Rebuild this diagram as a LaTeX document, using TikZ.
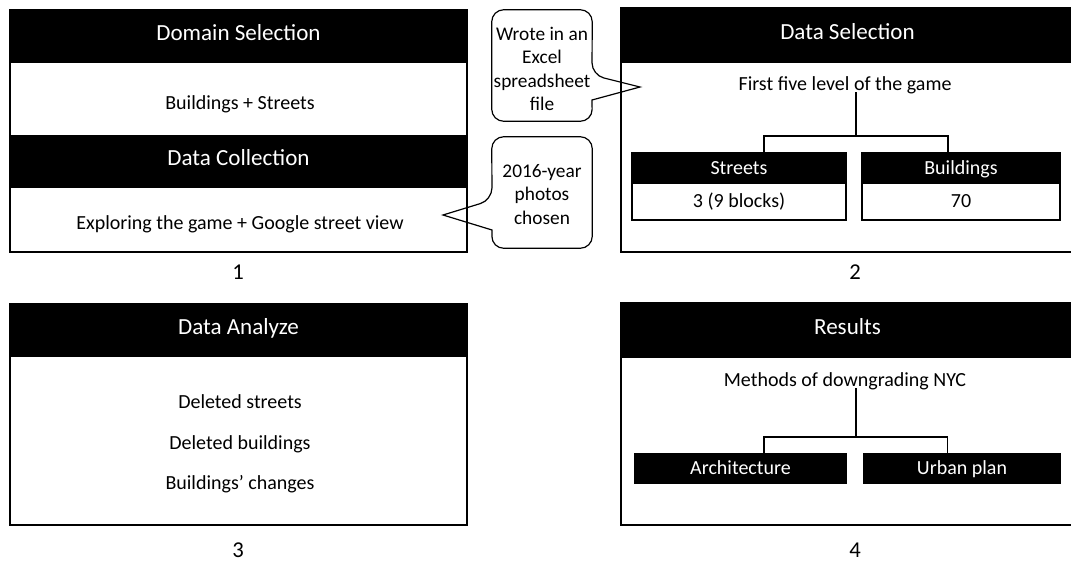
\documentclass[tikz,border=0pt]{standalone}
\usepackage{fontspec}
\setmainfont{Carlito}
\usepackage{tikz}
\usetikzlibrary{positioning,calc,fit}
\tikzset{
  frame/.style={draw=black,line width=.9pt,inner sep=0pt},
  band/.style={fill=black,inner sep=0pt},
  head/.style={text=white,inner sep=1pt,text height=11pt,text depth=0pt,font=\fontsize{17.3}{20}\selectfont},
  subhead/.style={text=white,inner sep=1pt,text height=9.6pt,text depth=0pt,font=\fontsize{15}{17}\selectfont},
  subval/.style={draw=black,line width=.9pt,inner sep=0pt},
  txt/.style={font=\fontsize{15}{17}\selectfont,inner sep=1pt,text height=9.6pt,text depth=0pt},
  num/.style={font=\fontsize{17}{20}\selectfont,inner sep=1pt},
  bubble/.style={inner sep=0pt,align=center,font=\fontsize{14.5}{17.5}\selectfont},
  outline/.style={line width=.9pt,rounded corners=9pt},
  tree/.style={line width=.9pt,black}
}

\begin{document}
\begin{tikzpicture}[x=0.75pt,y=-0.75pt]
  \useasboundingbox (0,0) rectangle (1071,561);

  % panel 1
  \node[frame,fit={(10,10) (467,252)}] (panelA) {};
  \node[band,fit={(10,10) (467,63)}] (domainbar) {};
  \node[head] (domain) at ([yshift=2.5]domainbar.center) {Domain Selection};
  \node[txt] (scope) at (240,103) {Buildings + Streets};
  \node[band,fit={(10,135) (467,188)}] (collectbar) {};
  \node[head] (collect) at ([yshift=2.5]collectbar.center) {Data Collection};
  \node[txt] (explore) at (240,223) {Exploring the game + Google street view};
  \node[num] (numA) at (238,272) {1};

  % notes
  \node[fit={(492,10) (592,121)},inner sep=0pt] (noteA) {};
  \node[bubble] (noteAtxt) at ([yshift=-2.5]noteA.center) {Wrote in an\\Excel\\spreadsheet\\file};
  \coordinate (tipA) at (640,87);
  \draw[outline] (noteA.south west) -- (noteA.north west) -- (noteA.north east)
    -- (592,75) [sharp corners] -- (tipA) -- (592,100) [rounded corners=9pt]
    -- (noteA.south east) -- cycle;

  \node[fit={(492,137) (592,248)},inner sep=0pt] (noteB) {};
  \node[bubble] (noteBtxt) at ([yshift=-1.5]noteB.center) {2016-year\\photos\\chosen};
  \coordinate (tipB) at (443,215);
  \draw[outline] (noteB.north east) -- (noteB.north west)
    -- (492,200) [sharp corners] -- (tipB) -- (492,230) [rounded corners=9pt]
    -- (noteB.south west) -- (noteB.south east) -- cycle;

  % panel 2
  \node[frame,fit={(621,8) (1074,252)}] (panelB) {};
  \node[band,fit={(621,8) (1074,63)}] (selectbar) {};
  \node[head] (select) at ([yshift=2.5]selectbar.center) {Data Selection};
  \node[txt] (levels) at (845,84) {First five level of the game};
  \node[band,fit={(632,153) (846,183)}] (streets) {};
  \node[subhead] at (streets.center) {Streets};
  \node[subval,fit={(632,183) (846,220)}] (streetsval) {};
  \node[txt] at (streetsval.center) {3 (9 blocks)};
  \node[band,fit={(862,153) (1060,183)}] (bldg) {};
  \node[subhead] at (bldg.center) {Buildings};
  \node[subval,fit={(862,183) (1060,220)}] (bldgval) {};
  \node[txt] at (bldgval.center) {70};
  \draw[subval] (streets.north west) rectangle (streetsval.south east);
  \draw[subval] (bldg.north west) rectangle (bldgval.south east);
  \coordinate (forkB) at (856,136);
  \draw[tree] (levels.south -| forkB) -- (forkB);
  \draw[tree] (forkB) -| ($(streets.north)+(25,0)$);
  \draw[tree] (forkB) -| ($(bldg.north)+(-13,0)$);
  \node[num] (numB) at (855,272) {2};

  % panel 3
  \node[frame,fit={(10,304) (467,525)}] (panelC) {};
  \node[band,fit={(10,304) (467,357)}] (analyzebar) {};
  \node[head] (analyze) at ([yshift=2.5]analyzebar.center) {Data Analyze};
  \node[txt] (delstreets) at (240,402) {Deleted streets};
  \node[txt] (delbldg) at (240,443) {Deleted buildings};
  \node[txt] (changes) at (240,483) {Buildings’ changes};
  \node[num] (numC) at (238,550) {3};

  % panel 4
  \node[frame,fit={(621,303) (1074,525)}] (panelD) {};
  \node[band,fit={(621,303) (1074,358)}] (resultsbar) {};
  \node[head] (results) at ([yshift=2.5]resultsbar.center) {Results};
  \node[txt] (methods) at (845,380) {Methods of downgrading NYC};
  \node[band,fit={(634,453) (847,484)}] (arch) {};
  \node[subhead] at (arch.center) {Architecture};
  \node[band,fit={(863,453) (1061,484)}] (urban) {};
  \node[subhead] at (urban.center) {Urban plan};
  \coordinate (forkD) at (856,437);
  \draw[tree] (methods.south -| forkD) -- (forkD);
  \draw[tree] (forkD) -| ($(arch.north)+(23.5,0)$);
  \draw[tree] (forkD) -| ($(urban.north)+(-14.5,0)$);
  \node[num] (numD) at (855,550) {4};
\end{tikzpicture}
\end{document}
